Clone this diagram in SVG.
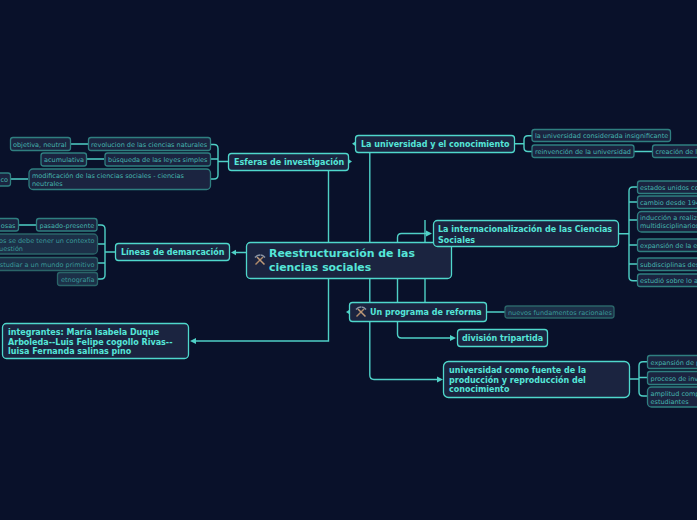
<svg xmlns="http://www.w3.org/2000/svg" width="697" height="520" viewBox="0 0 697 520">
<style>
text{font-family:"DejaVu Sans",Verdana,sans-serif}
.n rect{fill:#1b2440;stroke:#4fd8cc;stroke-width:1.3}
.n text{fill:#55e6d8;font-weight:bold;font-size:8px}
.s rect{fill:#1b2440;stroke:#2f7f80;stroke-width:1.3}
.s text{fill:#45b5ae;font-size:6.5px}
.f rect{fill:#1c3048;stroke:#2a6468;stroke-width:1.3}
.f text{fill:#3a9a98;font-size:6.5px}
.e{text-anchor:end}
.c path{fill:none;stroke:#4fd0c6;stroke-width:1.4}
.c .a{fill:#4fd0c6;stroke:none}
</style>
<defs>
<g id="tools"><path d="M-4.500 4.500L3 -3" stroke="#b08a6a" stroke-width="1.500" fill="none"/><path d="M4.500 4.500L-3 -3" stroke="#c09a78" stroke-width="1.500" fill="none"/><path d="M-5 -2.500Q-3 -5 0 -5" stroke="#8a95a5" stroke-width="1.500" fill="none"/><path d="M5 -2.500Q3 -5 0.500 -5" stroke="#8a95a5" stroke-width="1.500" fill="none"/></g>
</defs>
<rect width="697" height="520" fill="#09112a"/>
<g class="c" id="connectors">
<path d="M328.500 242V170M369.800 242V152M328.500 278V341H194M369.800 278V375Q369.800 379.500 374 379.500H439M397.500 242V237.500Q397.500 233.500 401.500 233.500H428M397.500 278V334Q397.500 338 401.500 338H452M425 242V220M425 278V302M246 252.500H235M349 312H349M487 312H505M515 143.700H524M619 233.700H629M630 379H639M228 161.500H218M115 252H105"/>
<path d="M211 144.500H214Q218 144.500 218 148.500V175Q218 179 214 179H211M211 159H218"/>
<path d="M88 144H71M104 159H87M28 179H11M36 225H19"/>
<path d="M98 225H101Q105 225 105 229V275Q105 279 101 279H98M98 244H105M98 263H105"/>
<path d="M532 135.700H528Q524 135.700 524 139.700V147.500Q524 151.500 528 151.500H532M634 151.500H652"/>
<path d="M637 187H633Q629 187 629 191V276.700Q629 280.700 633 280.700H637M629 202H637M629 220H637M629 245H637M629 264H637"/>
<path d="M647 361.700H643Q639 361.700 639 365.700V392Q639 396 643 396H647M639 377.500H647"/>
<path class="a" d="M231 252.500l5 -2.800v5.600zM190 341l6 -3v6zM346 312l3 -2v4zM352 161.500l-3 -2v4zM352 143.700l3 -2v4zM432 233.500l-6 -3v6zM456 338l-6 -3v6zM443 379.500l-6 -3v6z"/>
</g>
<g id="root" class="n"><rect x="246.500" y="242.500" width="205" height="36" rx="4"/><text x="269" y="257" style="font-size:10.900px">Reestructuración de las</text><text x="269" y="271" style="font-size:10.900px">ciencias sociales</text><use href="#tools" x="260" y="260"/></g>
<g id="n1" class="n"><rect x="228.500" y="153.500" width="120" height="17" rx="3"/><text x="234" y="165">Esferas de investigación</text></g>
<g id="n2" class="n"><rect x="355.500" y="135.500" width="159" height="17" rx="3"/><text x="361" y="147">La universidad y el conocimiento</text></g>
<g id="n3" class="n"><rect x="433.500" y="220.500" width="185" height="26" rx="4"/><text x="438" y="232">La internacionalización de las Ciencias</text><text x="438" y="243">Sociales</text></g>
<g id="n4" class="n"><rect x="115.500" y="243.500" width="114" height="17" rx="3"/><text x="121" y="255">Líneas de demarcación</text></g>
<g id="n5" class="n"><rect x="349.500" y="302.500" width="137" height="19" rx="3"/><text x="370" y="315">Un programa de reforma</text><use href="#tools" x="361" y="312"/></g>
<g id="n6" class="n"><rect x="457.500" y="329.500" width="90" height="17" rx="3"/><text x="462" y="341">división tripartida</text></g>
<g id="n7" class="n"><rect x="443.500" y="361.500" width="186" height="36" rx="5"/><text x="449" y="373">universidad como fuente de la</text><text x="449" y="383">producción y reproducción del</text><text x="449" y="392">conocimiento</text></g>
<g id="n8" class="n"><rect x="2.500" y="323.500" width="186" height="35" rx="4"/><text x="8" y="335">integrantes: María Isabela Duque</text><text x="8" y="344.500">Arboleda--Luis Felipe cogollo Rivas--</text><text x="8" y="354">luisa Fernanda salinas pino</text></g>
<g id="a1" class="s"><rect x="10.500" y="137.500" width="60" height="13" rx="2.500"/><text x="13" y="147">objetiva, neutral</text></g>
<g id="a2" class="s"><rect x="88.500" y="137.500" width="122" height="13" rx="2.500"/><text x="91" y="147">revolucion de las ciencias naturales</text></g>
<g id="a3" class="s"><rect x="41" y="153" width="45.500" height="13" rx="2.500"/><text x="44" y="162">acumulativa</text></g>
<g id="a4" class="s"><rect x="105" y="153" width="105.500" height="13" rx="2.500"/><text x="108" y="162">búsqueda de las leyes simples</text></g>
<g id="a5" class="s"><rect x="-20" y="173" width="30.500" height="13" rx="2.500"/><text class="e" x="8" y="182">co</text></g>
<g id="a6" class="s"><rect x="29" y="169" width="181.500" height="20.500" rx="4"/><text x="32" y="178">modificación de las ciencias sociales - ciencias</text><text x="32" y="186">neutrales</text></g>
<g id="b1" class="s"><rect x="-20" y="218.500" width="38.500" height="12.500" rx="2.500"/><text class="e" x="15.500" y="227.500">osas</text></g>
<g id="b2" class="s"><rect x="36.500" y="218.500" width="60.500" height="12.500" rx="2.500"/><text x="39.500" y="227.500">pasado-presente</text></g>
<g id="b3" class="f"><rect x="-30" y="234" width="127.500" height="20" rx="4"/><text class="e" x="94.500" y="243">os se debe tener un contexto</text><text class="e" x="23" y="250.500">uestión</text></g>
<g id="b4" class="f"><rect x="-30" y="257.500" width="127.500" height="13" rx="2.500"/><text class="e" x="94.500" y="266.500">studiar a un mundo primitivo</text></g>
<g id="b5" class="f"><rect x="57.500" y="272.500" width="40" height="13" rx="2.500"/><text x="61" y="281.500">etnografía</text></g>
<g id="c1" class="s"><rect x="532" y="129.500" width="138.500" height="12" rx="2.500"/><text x="535" y="138">la universidad considerada insignificante</text></g>
<g id="c2" class="s"><rect x="532" y="145" width="102" height="12.500" rx="2.500"/><text x="535" y="154">reinvención de la universidad</text></g>
<g id="c3" class="s"><rect x="652.500" y="145" width="60" height="12.500" rx="2.500"/><text x="655.500" y="154">creación de l</text></g>
<g id="d1" class="s"><rect x="637.500" y="181" width="80" height="12.500" rx="2.500"/><text x="640" y="189.500">estados unidos co</text></g>
<g id="d2" class="s"><rect x="637.500" y="196" width="80" height="12.500" rx="2.500"/><text x="640" y="205">cambio desde 194</text></g>
<g id="d3" class="s"><rect x="637.500" y="211.500" width="80" height="20.500" rx="4"/><text x="640" y="220">inducción a realiz</text><text x="640" y="228">multidisciplinarios</text></g>
<g id="d4" class="s"><rect x="637.500" y="239" width="80" height="12.500" rx="2.500"/><text x="640" y="248">expansión de la e</text></g>
<g id="d5" class="s"><rect x="637.500" y="258" width="80" height="12.500" rx="2.500"/><text x="640" y="267">subdisciplinas des</text></g>
<g id="d6" class="s"><rect x="637.500" y="274" width="80" height="12.500" rx="2.500"/><text x="640" y="283">estudió sobre lo a</text></g>
<g id="e1" class="f"><rect x="505" y="306" width="109" height="12" rx="2.500"/><text x="508" y="315">nuevos fundamentos racionales</text></g>
<g id="g1" class="s"><rect x="647.500" y="355.500" width="70" height="13" rx="2.500"/><text x="650.500" y="364.500">expansión de p</text></g>
<g id="g2" class="s"><rect x="647.500" y="371.500" width="70" height="13" rx="2.500"/><text x="650.500" y="380.500">proceso de inv</text></g>
<g id="g3" class="s"><rect x="647.500" y="387" width="70" height="20" rx="4"/><text x="650.500" y="396">amplitud comp</text><text x="650.500" y="404">estudiantes</text></g>
</svg>
